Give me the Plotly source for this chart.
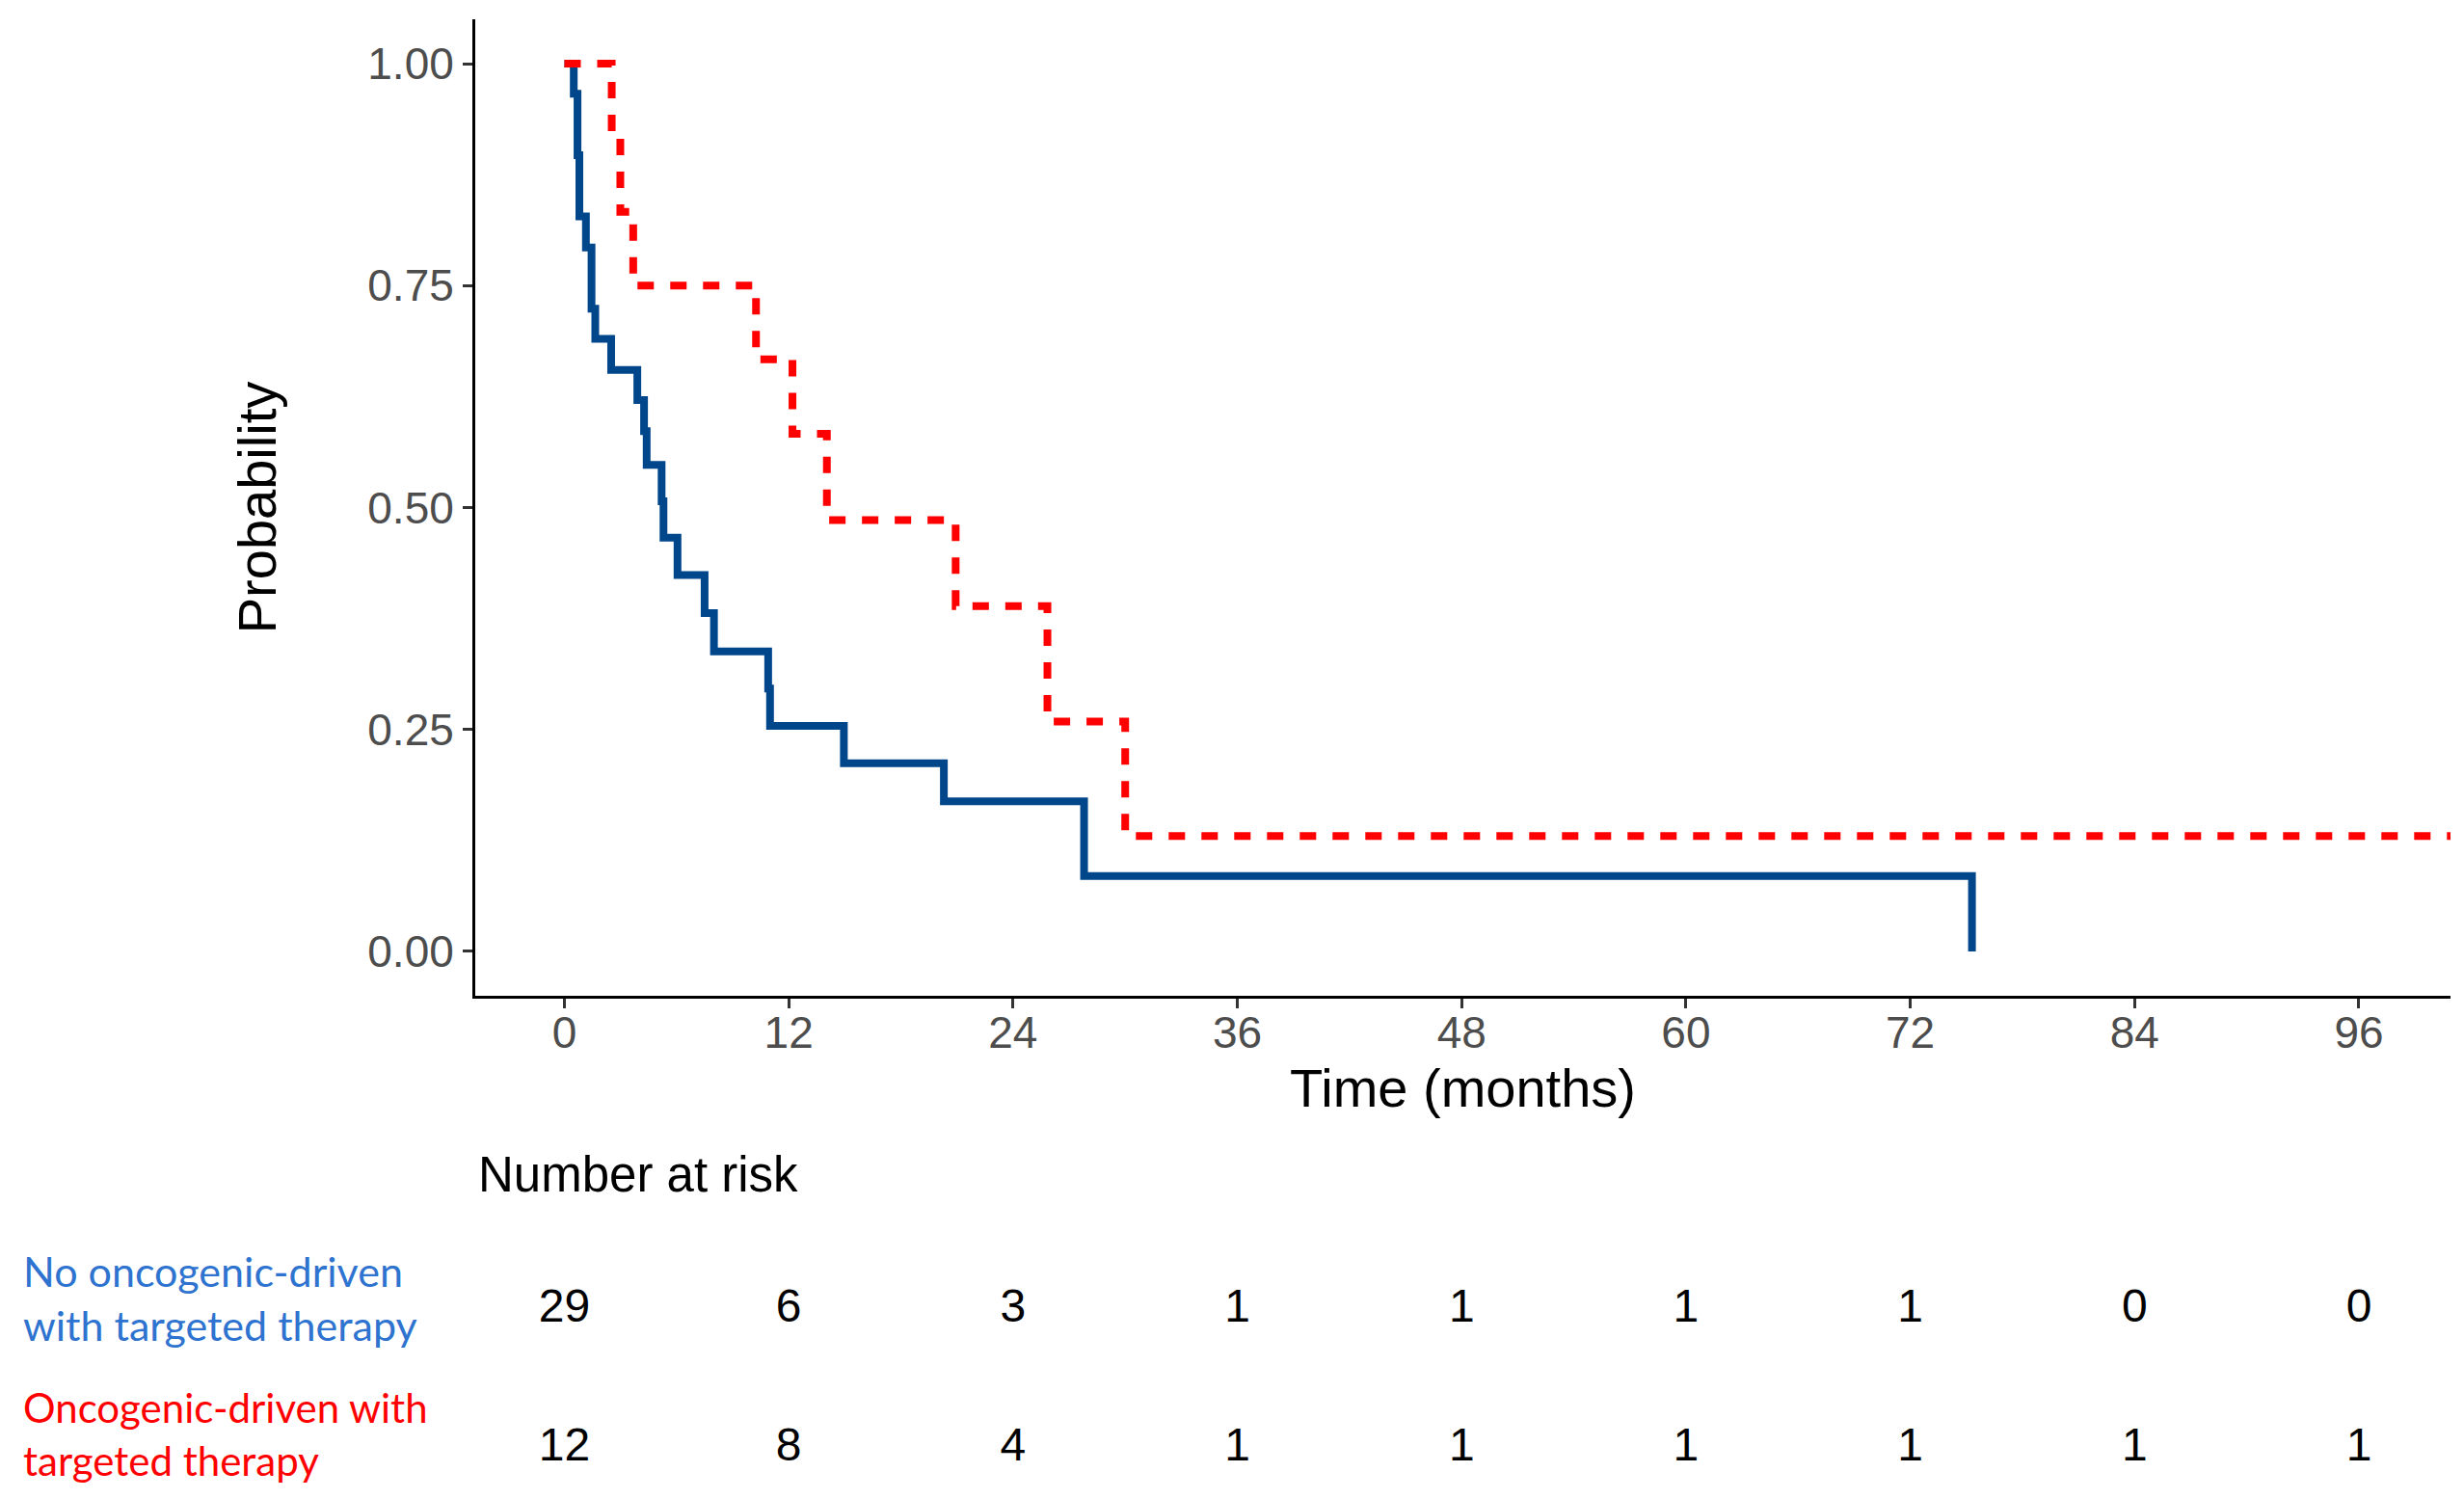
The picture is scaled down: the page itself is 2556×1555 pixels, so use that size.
import plotly.graph_objects as go

# ---------------- data ----------------
time_blue = [0, 0.5, 0.7, 0.8, 1.15, 1.45, 1.65, 2.5, 3.9, 4.26, 4.4, 5.2, 5.3,
             6.05, 7.5, 8.0, 10.9, 11.0, 14.95, 20.3, 27.8, 75.3]
surv_blue = [1.0, 0.966, 0.897, 0.828, 0.793, 0.724, 0.690, 0.655, 0.621, 0.586,
             0.548, 0.507, 0.466, 0.424, 0.381, 0.338, 0.296, 0.254, 0.212, 0.169,
             0.085, 0.0]

time_red = [0, 2.53, 2.99, 3.68, 10.25, 12.2, 14.04, 20.93, 25.84, 30.0, 100.9]
surv_red = [1.0, 0.917, 0.833, 0.75, 0.667, 0.583, 0.486, 0.389, 0.259, 0.130, 0.130]

risk_times = [0, 12, 24, 36, 48, 60, 72, 84, 96]
risk_blue = [29, 6, 3, 1, 1, 1, 1, 0, 0]
risk_red = [12, 8, 4, 1, 1, 1, 1, 1, 1]

y_tick_vals = [0, 0.25, 0.5, 0.75, 1.0]
y_tick_text = ["0.00", "0.25", "0.50", "0.75", "1.00"]

name_blue = "No oncogenic-driven<br>with targeted therapy"
name_red = "Oncogenic-driven with<br>targeted therapy"
risk_title = "Number at risk"
x_title = "Time (months)"
y_title = "Probability"

# ---------------- styling / layout (screen pixels) ----------------
OFF = 8                      # page body margin
W, H = 2556 - OFF, 1555 - OFF
AX_L, AX_R, AX_T, AX_B = 493, 2542, 20, 1033   # plot area on screen
ML = AX_L - OFF
MR = (W + OFF) - AX_R
MT = AX_T - OFF
MB = 0
paper_h = H - MT - MB


def py(screen_y):
    """screen y pixel -> paper fraction"""
    return 1 - (screen_y - OFF - MT) / paper_h


def px(screen_x):
    return (screen_x - OFF - ML) / (W - ML - MR)


BLUE = "#00468B"
RED = "#FF0000"
BLUE_TXT = "#2E73CF"
SANS = "Liberation Sans, Arial, Helvetica, sans-serif"
LABEL_FONT = "Lato, Calibri, sans-serif"

main_bottom = py(AX_B)
# risk-table axis: domain [0, d_top]; row 1 at screen y 1359, row 0 at 1503
d_top = 0.2
dom_px = d_top * paper_h
y_row1, y_row0 = 1359, 1503
scale = (y_row0 - y_row1)          # px per unit
bottom_screen = OFF + MT + paper_h
r0 = -(bottom_screen - y_row0) / scale
r1 = r0 + dom_px / scale

fig = go.Figure()

fig.add_trace(go.Scatter(
    x=time_blue, y=surv_blue, mode="lines", line_shape="hv",
    line=dict(color=BLUE, width=8), name="blue", showlegend=False,
    xaxis="x", yaxis="y"))
fig.add_trace(go.Scatter(
    x=time_red, y=surv_red, mode="lines", line_shape="hv",
    line=dict(color=RED, width=8, dash="17px,17px"), name="red", showlegend=False,
    xaxis="x", yaxis="y"))

fig.add_trace(go.Scatter(
    x=risk_times, y=[1] * len(risk_times), mode="text",
    text=[str(v) for v in risk_blue], textposition="middle center",
    textfont=dict(family=SANS, size=48, color="black"),
    showlegend=False, xaxis="x2", yaxis="y2", hoverinfo="skip"))
fig.add_trace(go.Scatter(
    x=risk_times, y=[0] * len(risk_times), mode="text",
    text=[str(v) for v in risk_red], textposition="middle center",
    textfont=dict(family=SANS, size=48, color="black"),
    showlegend=False, xaxis="x2", yaxis="y2", hoverinfo="skip"))

axis_common = dict(
    showgrid=False, zeroline=False, showline=True, linecolor="black", linewidth=3,
    ticks="outside", ticklen=10, tickwidth=3, tickcolor="#333333",
    tickfont=dict(family=SANS, size=46, color="#4D4D4D"),
)

fig.update_layout(
    width=W, height=H,
    margin=dict(l=ML, r=MR, t=MT, b=MB),
    paper_bgcolor="white", plot_bgcolor="white",
    showlegend=False,
    xaxis=dict(
        domain=[0, 1], anchor="y", range=[-4.77, 100.9],
        tickvals=risk_times, ticktext=[str(v) for v in risk_times],
        ticklabelstandoff=-14,
        title=dict(text=x_title, font=dict(family=SANS, size=56, color="black"), standoff=6),
        **axis_common),
    yaxis=dict(
        domain=[main_bottom, 1], anchor="x", range=[-0.05, 1.05],
        tickvals=y_tick_vals, ticktext=y_tick_text,
        title=dict(text=y_title, font=dict(family=SANS, size=56, color="black"), standoff=77),
        **axis_common),
    xaxis2=dict(domain=[0, 1], anchor="y2", matches="x", visible=False),
    yaxis2=dict(domain=[0, d_top], anchor="x2", range=[r0, r1], visible=False),
    annotations=[
        dict(text=risk_title, xref="paper", yref="paper", x=px(494), y=py(1218),
             xanchor="left", yanchor="middle", showarrow=False,
             font=dict(family=SANS, size=51, color="black")),
        dict(text=name_blue, xref="paper", yref="paper", x=px(22), y=py(1346),
             xanchor="left", yanchor="middle", align="left", showarrow=False,
             font=dict(family=LABEL_FONT, size=43, color=BLUE_TXT)),
        dict(text=name_red, xref="paper", yref="paper", x=px(22), y=py(1487),
             xanchor="left", yanchor="middle", align="left", showarrow=False,
             font=dict(family=LABEL_FONT, size=42, color=RED)),
    ],
)

fig.write_html("out.html")
